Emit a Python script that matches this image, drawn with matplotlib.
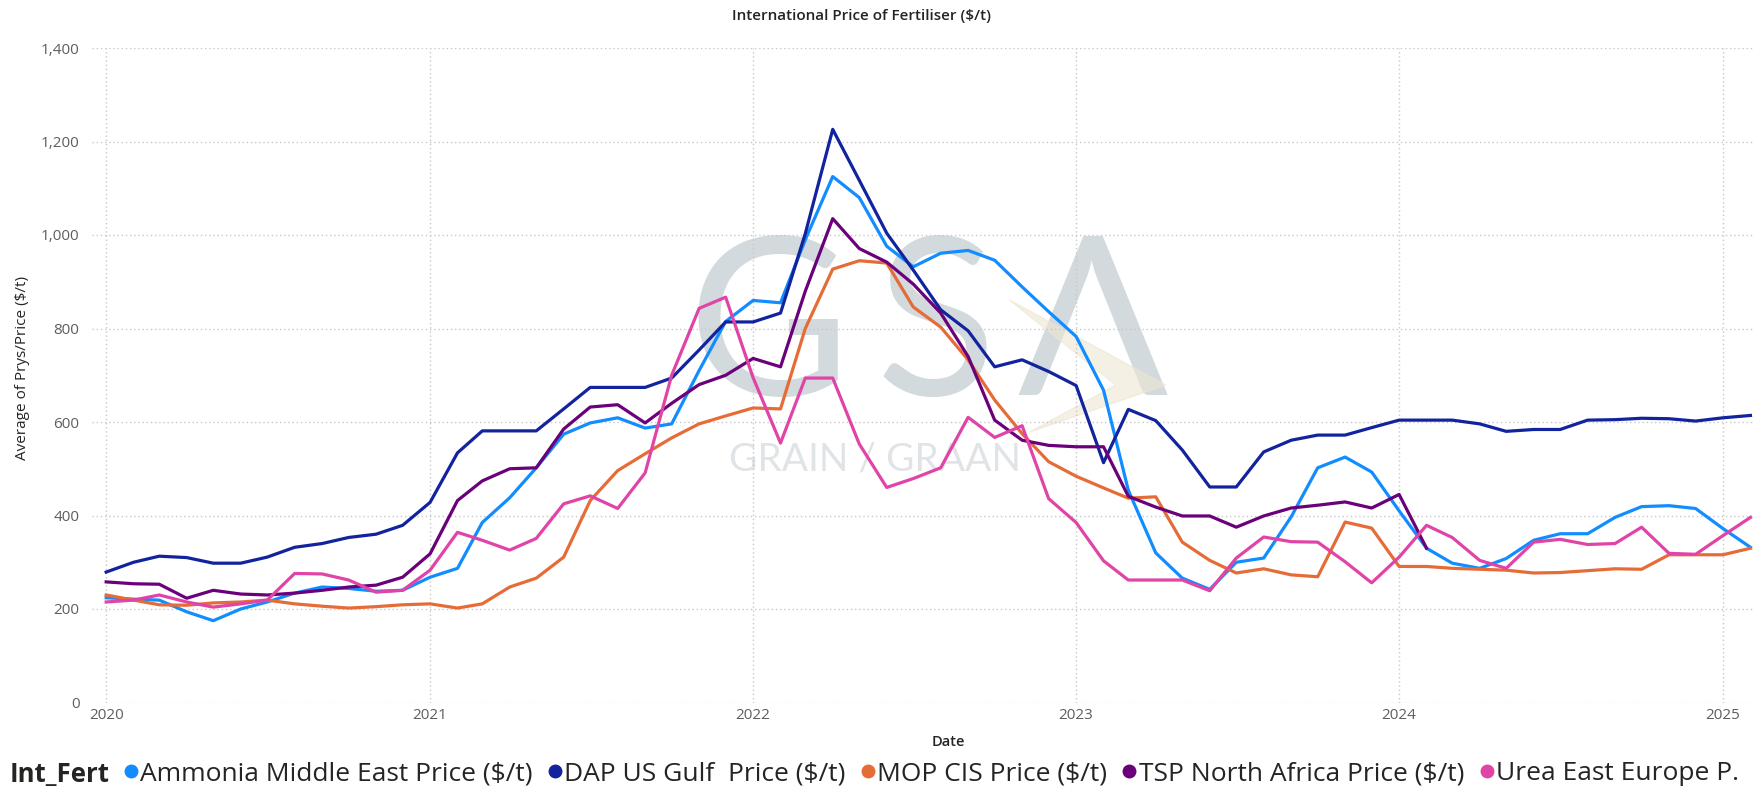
import matplotlib
matplotlib.use("Agg")
import matplotlib.pyplot as plt
import matplotlib.dates as mdates
from matplotlib.lines import Line2D
from matplotlib.patches import Polygon
from matplotlib.ticker import FuncFormatter
import pandas as pd

plt.rcParams['font.family'] = ['Open Sans', 'DejaVu Sans']

# monthly dates, Jan 2020 .. Feb 2025
dates = pd.date_range("2020-01-01", "2025-02-01", freq="MS")

ammonia = [224, 221, 219, 194, 175, 200, 215, 234, 247, 244, 238, 240,
           268, 287, 385, 438, 502, 574, 598, 609, 587, 596, 710, 815,
           860, 855, 990, 1125, 1080, 976, 932, 961, 967, 946, 889, 836,
           783, 668, 454, 320, 266, 242, 300, 309, 397, 502, 525, 493,
           410, 330, 298, 287, 308, 347, 361, 361, 396, 419, 421, 415,
           372, 332]

dap = [279, 300, 313, 310, 298, 298, 311, 332, 340, 353, 360, 379,
       428, 534, 581, 581, 581, 628, 674, 674, 674, 694, 754, 814,
       814, 833, 1003, 1226, 1117, 1004, 925, 840, 795, 718, 733, 708,
       678, 513, 627, 603, 540, 461, 461, 536, 561, 572, 572, 588,
       604, 604, 604, 596, 580, 584, 584, 604, 605, 608, 607, 602,
       609, 614]

mop = [230, 219, 209, 208, 213, 215, 219, 211, 206, 202, 205, 209,
       211, 202, 211, 247, 266, 311, 432, 496, 532, 566, 596, 613,
       630, 628, 800, 927, 945, 940, 846, 803, 733, 647, 575, 515,
       484, 459, 437, 440, 343, 304, 277, 286, 273, 269, 386, 373,
       291, 291, 287, 285, 283, 277, 278, 282, 286, 285, 316, 316,
       316, 330]

# TSP series stops in Feb 2024
tsp = [258, 254, 253, 223, 240, 232, 230, 234, 240, 247, 251, 268,
       318, 432, 474, 500, 502, 585, 632, 637, 598, 640, 680, 700,
       736, 718, 880, 1035, 971, 942, 895, 833, 740, 604, 561, 550,
       547, 547, 441, 418, 399, 399, 375, 399, 416, 422, 429, 416,
       445, 330]

urea = [215, 219, 230, 215, 204, 211, 219, 276, 275, 262, 236, 240,
        283, 364, 347, 326, 351, 425, 442, 415, 491, 700, 843, 867,
        695, 555, 694, 694, 553, 460, 479, 502, 610, 567, 592, 436,
        385, 303, 262, 262, 262, 239, 309, 354, 344, 343, 301, 256,
        311, 379, 353, 304, 287, 343, 349, 338, 340, 375, 319, 317,
        357, 396]

series = [
    ("Ammonia Middle East Price ($/t)", ammonia, "#118DFF"),
    ("DAP US Gulf  Price ($/t)", dap, "#12239E"),
    ("MOP CIS Price ($/t)", mop, "#E66C37"),
    ("TSP North Africa Price ($/t)", tsp, "#6B007B"),
    ("Urea East Europe P.", urea, "#E044A7"),
]

fig = plt.figure(figsize=(17.54, 8), dpi=100)
ax = fig.add_axes([92 / 1754, 97.5 / 800, 1662 / 1754, 654.5 / 800])

# GSA watermark
wm = dict(transform=ax.transAxes, ha="center", va="center", color="#d3dadd",
          fontsize=160, zorder=0, family=["Lato", "DejaVu Sans"])
ax.text(0.407, 0.566, "G", **wm)
ax.text(0.508, 0.566, "S", **wm)
ax.text(0.602, 0.566, "\u039b", **wm)
ax.add_patch(Polygon([(0.552, 0.615), (0.646, 0.485), (0.564, 0.413), (0.616, 0.485)],
                     closed=True, transform=ax.transAxes, color="#ede6d2", alpha=0.6, zorder=0))
ax.text(0.471, 0.372, "GRAIN / GRAAN", transform=ax.transAxes, ha="center", va="center",
        color="#e0e4e6", fontsize=28, zorder=0, family=["Lato", "DejaVu Sans"])

for name, vals, col in series:
    ax.plot(dates[:len(vals)], vals, color=col, lw=2.3, zorder=3)

ax.set_ylim(0, 1400)
ax.set_xlim(pd.Timestamp("2019-12-16"), pd.Timestamp("2025-02-05"))
ax.set_yticks(range(0, 1401, 200))
ax.yaxis.set_major_formatter(FuncFormatter(lambda v, p: f"{int(v):,}"))
ax.xaxis.set_major_locator(mdates.YearLocator())
ax.xaxis.set_major_formatter(mdates.DateFormatter("%Y"))

ax.grid(True, color="#c8c8c8", linestyle=(0, (1, 2)), lw=1)
ax.set_axisbelow(True)
for s in ax.spines.values():
    s.set_visible(False)
ax.tick_params(length=0, labelsize=11, colors="#605E5C")
ax.tick_params(axis="y", pad=9)
ax.tick_params(axis="x", pad=4)

fig.text(862 / 1754, 0.98, "International Price of Fertiliser ($/t)", ha="center", va="center",
         fontsize=11, color="#252423", fontweight="semibold")
fig.text(0.013, 0.54, "Average of Prys/Price ($/t)", rotation=90, ha="center", va="center",
         fontsize=11, color="#252423")
fig.text(948 / 1754, 0.0725, "Date", ha="center", va="center", fontsize=10.5,
         color="#252423", fontweight="semibold")

# legend row
fig.text(10 / 1754, 0.0325, "Int_Fert", ha="left", va="center", fontsize=18.5,
         fontweight="bold", color="#252423")
handles = [Line2D([], [], marker="o", linestyle="none", markersize=9, color=c) for _, _, c in series]
fig.legend(handles, [n for n, _, _ in series], loc="center left",
           bbox_to_anchor=(124 / 1754, 0.0325), ncol=5, frameon=False, fontsize=19,
           handlelength=0.5, handletextpad=0.1, columnspacing=0.6,
           borderpad=0, borderaxespad=0, labelcolor="#252423")

fig.savefig("out.png", dpi=100)
